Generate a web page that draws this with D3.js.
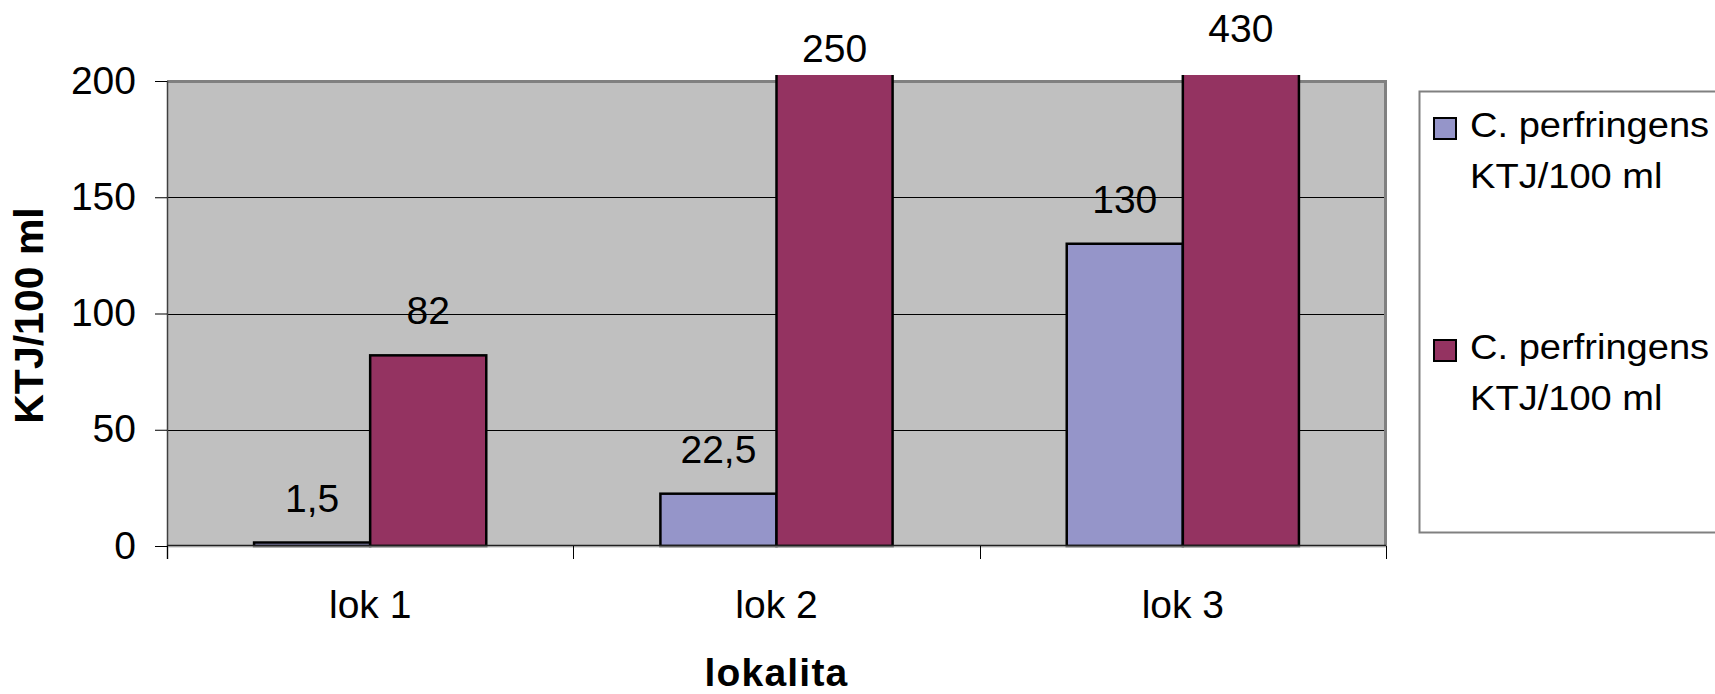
<!DOCTYPE html>
<html>
<head>
<meta charset="utf-8">
<script src="https://cdn.jsdelivr.net/npm/d3@7/dist/d3.min.js"></script>
<style>
  html, body { margin: 0; padding: 0; background: #ffffff; }
  svg { display: block; font-family: "Liberation Sans", Arial, sans-serif; }
</style>
</head>
<body>
<svg id="chart" width="1715" height="694"></svg>
<script>
// Categories (sampling sites) and the two series of counts
const categories = ["lok 1", "lok 2", "lok 3"];
const seriesKeys = ["a", "b"];
const seriesA = [1.5, 22.5, 130];
const seriesB = [82, 250, 430];
const seriesLabelLines = [
  ["C. perfringens", "KTJ/100 ml"],
  ["C. perfringens", "KTJ/100 ml"]
];
const seriesColors = ["#9595C9", "#943361"];
const yTicks = [0, 50, 100, 150, 200];
const yMax = 200;
const xTitle = "lokalita";
const yTitle = "KTJ/100 ml";

// Czech decimal comma for the value labels
const fmt = d3.formatLocale({ decimal: ",", thousands: " ", grouping: [3], currency: ["", " Kč"] }).format("~r");

const svg = d3.select("#chart");
const plot = { left: 167, right: 1386, top: 81, bottom: 546 };
const overshoot = 6; // bars above the axis maximum poke slightly past the frame

const x = d3.scaleBand().domain(categories).range([plot.left, plot.right]).paddingInner(0).paddingOuter(0);
const x1 = d3.scaleBand().domain(seriesKeys).range([0, x.bandwidth()]).paddingInner(0).paddingOuter(0.75);
const y = d3.scaleLinear().domain([0, yMax]).range([plot.bottom, plot.top]);
// label placement for bars whose value runs past the top of the axis
const yOver = d3.scaleLinear().domain([yMax, 430]).range([68, 41.7]);

const rows = categories.map((c, i) => ({ cat: c, vals: [
  { key: "a", v: seriesA[i], color: seriesColors[0] },
  { key: "b", v: seriesB[i], color: seriesColors[1] }
]}));

// plot background
svg.append("rect")
  .attr("x", plot.left).attr("y", plot.top)
  .attr("width", plot.right - plot.left).attr("height", plot.bottom - plot.top)
  .attr("fill", "#C0C0C0");

// horizontal gridlines
svg.append("g").selectAll("line")
  .data(yTicks.filter(t => t > 0 && t < yMax))
  .join("line")
  .attr("x1", plot.left).attr("x2", plot.right)
  .attr("y1", d => Math.round(y(d)) + 0.5).attr("y2", d => Math.round(y(d)) + 0.5)
  .attr("stroke", "#000").attr("stroke-width", 1);

// frame: gray top and right edges
svg.append("path")
  .attr("d", `M${plot.left},${plot.top + 0.5} H${plot.right - 0.5} V${plot.bottom}`)
  .attr("fill", "none").attr("stroke", "#808080").attr("stroke-width", 3);

// clip the bars a few pixels above the frame
svg.append("clipPath").attr("id", "barClip")
  .append("rect")
  .attr("x", plot.left - 10).attr("y", plot.top - overshoot)
  .attr("width", plot.right - plot.left + 20).attr("height", plot.bottom - plot.top + overshoot + 10);

const groups = svg.append("g").attr("clip-path", "url(#barClip)")
  .selectAll("g").data(rows).join("g")
  .attr("transform", d => `translate(${x(d.cat)},0)`);

groups.selectAll("rect").data(d => d.vals).join("rect")
  .attr("x", d => x1(d.key))
  .attr("width", x1.bandwidth())
  .attr("y", d => y(d.v))
  .attr("height", d => y(0) - y(d.v))
  .attr("fill", d => d.color)
  .attr("stroke", "#000").attr("stroke-width", 2.5);

// axes lines
svg.append("line")
  .attr("x1", plot.left + 0.5).attr("x2", plot.left + 0.5)
  .attr("y1", plot.top).attr("y2", plot.bottom + 13)
  .attr("stroke", "#404040").attr("stroke-width", 1.5);
svg.append("line")
  .attr("x1", plot.left).attr("x2", plot.right)
  .attr("y1", plot.bottom - 0.5).attr("y2", plot.bottom - 0.5)
  .attr("stroke", "#202020").attr("stroke-width", 1.5);
svg.append("line")
  .attr("x1", plot.left).attr("x2", plot.right)
  .attr("y1", plot.bottom + 0.8).attr("y2", plot.bottom + 0.8)
  .attr("stroke", "#909090").attr("stroke-width", 1);

// y axis
const yAxis = d3.axisLeft(y).tickValues(yTicks).tickSize(12).tickPadding(19).tickFormat(d => fmt(d));
const gy = svg.append("g").attr("transform", `translate(${plot.left},0)`).call(yAxis);
gy.select(".domain").remove();
gy.selectAll(".tick line").attr("stroke", "#000");
gy.selectAll(".tick text")
  .attr("font-size", 39).attr("fill", "#000").attr("dy", 12)
  .attr("font-family", "Liberation Sans, Arial, sans-serif");

// x axis: labels at the band centres, tick marks at the band edges
const xAxis = d3.axisBottom(x).tickSize(0).tickPadding(0);
const gx = svg.append("g").attr("transform", `translate(0,${plot.bottom})`).call(xAxis);
gx.select(".domain").remove();
gx.selectAll(".tick text")
  .attr("font-size", 39).attr("fill", "#000").attr("y", 72).attr("dy", 0)
  .attr("font-family", "Liberation Sans, Arial, sans-serif");
const edges = categories.map(c => x(c)).concat([x(categories[categories.length - 1]) + x.bandwidth()]);
svg.append("g").selectAll("line").data(edges).join("line")
  .attr("x1", d => Math.round(d) + 0.5).attr("x2", d => Math.round(d) + 0.5)
  .attr("y1", plot.bottom).attr("y2", plot.bottom + 13)
  .attr("stroke", "#000").attr("stroke-width", 1);

// value labels
const labelGroups = svg.append("g").selectAll("g").data(rows).join("g")
  .attr("transform", d => `translate(${x(d.cat)},0)`);
labelGroups.selectAll("text").data(d => d.vals).join("text")
  .attr("x", d => x1(d.key) + x1.bandwidth() / 2)
  .attr("y", d => d.v > yMax ? yOver(d.v) : y(d.v) - 31)
  .attr("text-anchor", "middle")
  .attr("font-size", 39).attr("fill", "#000")
  .text(d => fmt(d.v));

// axis titles
svg.append("text")
  .attr("x", (plot.left + plot.right) / 2).attr("y", 686)
  .attr("text-anchor", "middle")
  .attr("font-size", 39).attr("font-weight", "bold").attr("letter-spacing", 1.2)
  .text(xTitle);
svg.append("text")
  .attr("transform", `translate(43,${(plot.top + plot.bottom) / 2 + 2}) rotate(-90)`)
  .attr("text-anchor", "middle")
  .attr("font-size", 41).attr("font-weight", "bold")
  .text(yTitle);

// legend
const legend = svg.append("g");
legend.append("rect")
  .attr("x", 1419.5).attr("y", 91.5).attr("width", 400).attr("height", 441)
  .attr("fill", "#fff").attr("stroke", "#808080").attr("stroke-width", 2);
const itemTops = [117, 339];
seriesLabelLines.forEach((lines, i) => {
  const g = legend.append("g").attr("transform", `translate(0,${itemTops[i]})`);
  g.append("rect")
    .attr("x", 1434).attr("y", 1).attr("width", 22).attr("height", 21)
    .attr("fill", seriesColors[i]).attr("stroke", "#000").attr("stroke-width", 2);
  lines.forEach((line, j) => {
    g.append("text")
      .attr("transform", `translate(1470,${20 + j * 51}) scale(1.12,1.04)`)
      .attr("font-size", 34).attr("fill", "#000")
      .text(line);
  });
});
</script>
</body>
</html>
